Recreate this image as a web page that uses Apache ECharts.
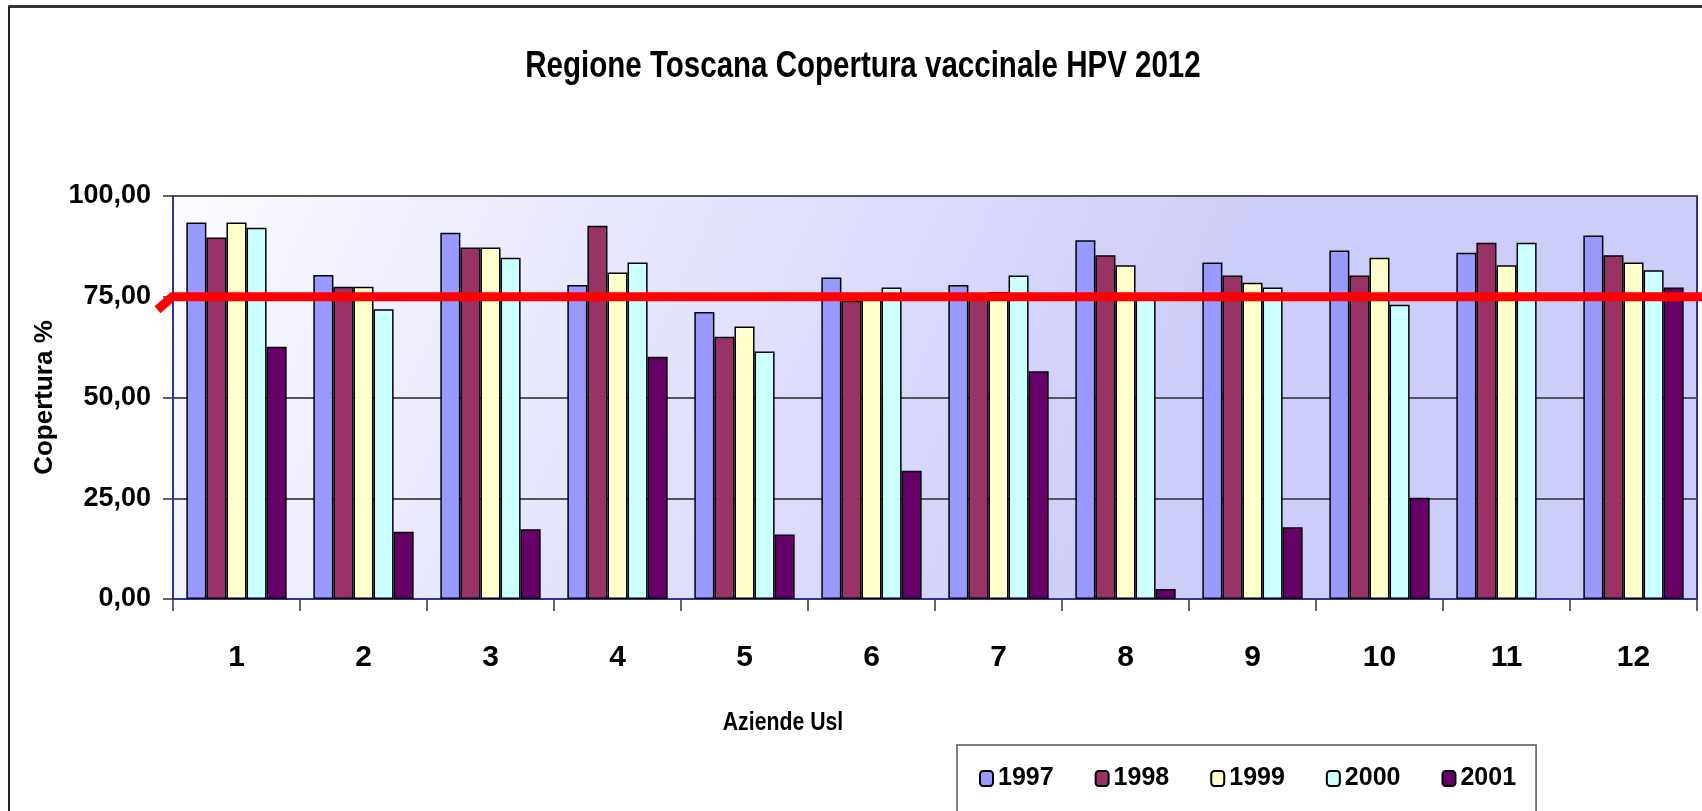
<!DOCTYPE html>
<html>
<head>
<meta charset="utf-8">
<style>
  html, body { margin: 0; padding: 0; background: #fff; }
  #main { width: 1702px; height: 811px; }
</style>
<script src="https://cdn.jsdelivr.net/npm/echarts@6/dist/echarts.min.js"></script>
</head>
<body>
<div id="main"></div>
<script>
// Aziende Usl 1..12
var aziende = ['1', '2', '3', '4', '5', '6', '7', '8', '9', '10', '11', '12'];
var anni = ['1997', '1998', '1999', '2000', '2001'];

var v1997 = [93.4, 80.4, 90.9, 77.9, 71.2, 79.8, 77.9, 89.0, 83.5, 86.5, 85.9, 90.2];
var v1998 = [89.7, 77.5, 87.2, 92.6, 65.1, 74.0, 75.0, 85.3, 80.3, 80.3, 88.4, 85.3];
var v1999 = [93.4, 77.5, 87.2, 81.0, 67.6, 75.0, 76.2, 82.8, 78.5, 84.7, 82.8, 83.5];
var v2000 = [92.1, 71.9, 84.7, 83.5, 61.4, 77.3, 80.3, 74.5, 77.3, 73.0, 88.4, 81.6];
var v2001 = [62.6, 16.7, 17.3, 60.1, 16.0, 31.8, 56.5, 2.5, 17.8, 25.1, null, 77.3];

var yTicks = [0, 25, 50, 75, 100];
var obiettivo = 75; // soglia (linea rossa)

var colori = ['#9999ff', '#993366', '#ffffcc', '#ccffff', '#660066'];
var font = "'Liberation Sans', Arial, sans-serif";

var valori = [v1997, v1998, v1999, v2000, v2001];

var myChart = echarts.init(document.getElementById('main'));

function serie(i) {
  return {
    name: anni[i],
    type: 'bar',
    data: valori[i],
    barGap: 0,
    barCategoryGap: '21%',
    itemStyle: {
      color: colori[i],
      borderColor: '#000',
      borderWidth: 1.5
    }
  };
}

myChart.setOption({
  animation: false,
  color: colori,
  legend: {
    left: 957,
    top: 745,
    padding: [21, 20, 24, 22],
    itemWidth: 13,
    itemHeight: 15,
    itemGap: 41,
    borderColor: '#555',
    borderWidth: 1.5,
    data: anni,
    textStyle: {
      fontFamily: font,
      fontWeight: 'bold',
      fontSize: 25,
      color: '#000'
    }
  },
  grid: {
    left: 173,
    right: 5,
    top: 196,
    bottom: 212,
    show: true,
    borderColor: '#333399',
    borderWidth: 2,
    backgroundColor: new echarts.graphic.LinearGradient(0, 0, 0.6, 1, [
      { offset: 0, color: '#fbfbff' },
      { offset: 1, color: '#cdcdf9' }
    ])
  },
  xAxis: {
    type: 'category',
    data: aziende,
    axisLine: { lineStyle: { color: '#333399', width: 2 } },
    axisTick: { show: true, length: 12, lineStyle: { color: '#333', width: 1.5 } },
    axisLabel: {
      margin: 44,
      fontFamily: font,
      fontWeight: 'bold',
      fontSize: 30,
      color: '#000'
    }
  },
  yAxis: {
    type: 'value',
    min: yTicks[0],
    max: yTicks[yTicks.length - 1],
    interval: 25,
    name: 'Copertura %',
    nameLocation: 'middle',
    nameGap: 94,
    nameTextStyle: {
      fontFamily: font,
      fontWeight: 'bold',
      fontSize: 26,
      color: '#000'
    },
    axisLine: { show: true, lineStyle: { color: '#333399', width: 2 } },
    axisTick: { show: true, length: 10, lineStyle: { color: '#333', width: 1.5 } },
    splitLine: { lineStyle: { color: '#555', width: 2 } },
    axisLabel: {
      margin: 22,
      fontFamily: font,
      fontWeight: 'bold',
      fontSize: 27,
      color: '#000',
      formatter: function (v) { return v.toFixed(2).replace('.', ','); }
    }
  },
  series: anni.map(function (a, i) { return serie(i); })
});

// linea rossa della soglia, titoli e cornice
var yObj = myChart.convertToPixel({ yAxisIndex: 0 }, obiettivo);
var xStart = myChart.convertToPixel({ xAxisIndex: 0 }, aziende[0]) - 79;
myChart.setOption({
  graphic: [{
    type: 'text',
    x: 863,
    y: 49,
    scaleX: 0.82,
    style: {
      text: 'Regione Toscana Copertura vaccinale HPV 2012',
      font: 'bold 36px ' + font,
      fill: '#000',
      textAlign: 'center',
      textVerticalAlign: 'top'
    }
  }, {
    type: 'text',
    x: 783,
    y: 711,
    scaleX: 0.85,
    style: {
      text: 'Aziende Usl',
      font: 'bold 25px ' + font,
      fill: '#000',
      textAlign: 'center',
      textVerticalAlign: 'top'
    }
  }, {
    type: 'polyline',
    z: 100,
    shape: { points: [[xStart, yObj + 13], [xStart + 15, yObj], [1702, yObj]] },
    style: { stroke: '#ff0000', lineWidth: 9, fill: null }
  }, {
    type: 'polyline',
    z: 100,
    shape: { points: [[9, 811], [9, 6.5], [1702, 6.5]] },
    style: { stroke: '#222', lineWidth: 2, fill: null }
  }, {
    type: 'rect',
    z: 100,
    shape: { x: 9, y: 5, width: 1693, height: 3 },
    style: { fill: '#333' }
  }]
});
</script>
</body>
</html>
